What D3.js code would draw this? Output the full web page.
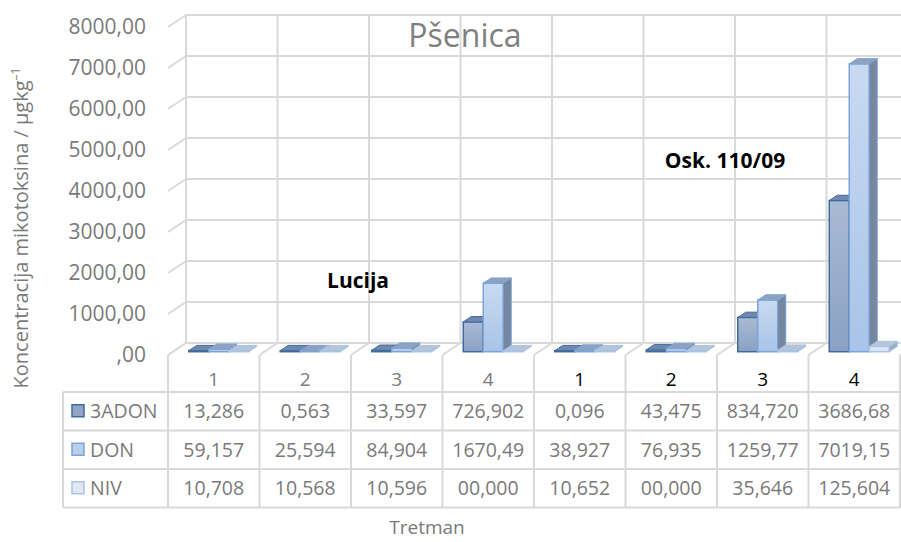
<!DOCTYPE html>
<html>
<head>
<meta charset="utf-8">
<script src="https://cdn.jsdelivr.net/npm/d3@7"></script>
<style>
  body { margin: 0; background: #fff; }
  svg { display: block; font-family: "Open Sans", sans-serif; }
</style>
</head>
<body>
<svg id="chart" width="901" height="542"></svg>
<script>
(function () {
    // categories (treatments), two varieties of 4 each
    var categories = ['1', '2', '3', '4', '1', '2', '3', '4'];
    var series = ['3ADON', 'DON', 'NIV'];
    // table text as printed in the data table; bar heights are parsed from it
    var adon3 = ['13,286', '0,563', '33,597', '726,902', '0,096', '43,475', '834,720', '3686,68'];
    var don = ['59,157', '25,594', '84,904', '1670,49', '38,927', '76,935', '1259,77', '7019,15'];
    var niv = ['10,708', '10,568', '10,596', '00,000', '10,652', '00,000', '35,646', '125,604'];
    var yTicks = [0, 1000, 2000, 3000, 4000, 5000, 6000, 7000, 8000];

    var rows = [adon3, don, niv];
    var num = function (s) { return parseFloat(s.replace(',', '.')); };

    var svg = d3.select('#chart');

    //Front plane geometry, the back wall is shifted by depth
    var left = 168, colW = 91.5;
    var depth = { x: 18, y: -12 };
    var x = d3.scaleBand().domain(d3.range(categories.length))
        .range([left, left + colW * categories.length]);
    var y = d3.scaleLinear().domain([0, 8000]).range([355, 27]);

    var grid = '#d9d9d9';

    // colours per series: front gradient, border, top, side
    var style = [
        { f1: '#a9bad3', f2: '#8aa1c4', stroke: '#3f6b9e', top: '#6f88ab', side: '#687d9c', key: '#8fa6c7' },
        { f1: '#c8daf1', f2: '#a9c4e8', stroke: '#7da4d6', top: '#8ea2bf', side: '#75869f', key: '#b9cfee' },
        { f1: '#e6edf7', f2: '#d3dff0', stroke: '#a9c3e5', top: '#b6c4d7', side: '#9fadc1', key: '#dfe7f3' }
    ];

    var defs = svg.append('defs');
    style.forEach(function (s, i) {
        var g = defs.append('linearGradient').attr('id', 'grad' + i)
            .attr('x1', 0).attr('y1', 0).attr('x2', 0).attr('y2', 1);
        g.append('stop').attr('offset', '0%').attr('stop-color', s.f1);
        g.append('stop').attr('offset', '100%').attr('stop-color', s.f2);
    });

    //Title
    svg.append('text')
        .attr('x', 465).attr('y', 47)
        .attr('text-anchor', 'middle')
        .attr('font-size', 32).attr('fill', '#7f7f7f')
        .text('Pšenica');

    //Back wall grid and left wall diagonals
    var gridG = svg.append('g');
    yTicks.forEach(function (t) {
        var yf = y(t);
        gridG.append('line')
            .attr('x1', left + depth.x).attr('x2', 930)
            .attr('y1', yf + depth.y).attr('y2', yf + depth.y)
            .attr('stroke', grid).attr('stroke-width', 2);
        gridG.append('line')
            .attr('x1', left).attr('y1', yf)
            .attr('x2', left + depth.x).attr('y2', yf + depth.y)
            .attr('stroke', grid).attr('stroke-width', 2);
    });
    d3.range(categories.length + 1).forEach(function (i) {
        var xf = left + i * colW;
        // back wall vertical
        gridG.append('line')
            .attr('x1', xf + depth.x).attr('x2', xf + depth.x)
            .attr('y1', y(8000) + depth.y).attr('y2', y(0) + depth.y)
            .attr('stroke', grid).attr('stroke-width', 2);
        // floor diagonal
        gridG.append('line')
            .attr('x1', xf).attr('y1', y(0))
            .attr('x2', xf + depth.x).attr('y2', y(0) + depth.y)
            .attr('stroke', grid).attr('stroke-width', 2);
        // category row separator
        gridG.append('line')
            .attr('x1', xf).attr('x2', xf)
            .attr('y1', y(0)).attr('y2', 392)
            .attr('stroke', grid).attr('stroke-width', 2);
    });

    //Y tick labels
    svg.append('g').selectAll('text')
        .data(yTicks).enter().append('text')
        .attr('x', 146).attr('y', function (d) { return y(d); })
        .attr('dy', '0.35em')
        .attr('text-anchor', 'end')
        .attr('font-size', 21).attr('fill', '#7a7a7a')
        .text(function (d) { return d === 0 ? ',00' : d + ',00'; });

    //Bars: three series side by side, placed at mid depth
    var barW = 20, bDepth = { x: 8, y: -5.3 }, bOff = { x: 5, y: -3.3 };
    var groupPad = (colW - barW * series.length) / 2;
    var barsG = svg.append('g');
    categories.forEach(function (c, i) {
        rows.forEach(function (row, s) {
            var v = num(row[i]);
            var x0 = x(i) + groupPad + s * barW + bOff.x;
            var x1 = x0 + barW;
            var yb = y(0) + bOff.y;
            var yt = y(v) + bOff.y;
            if (yb - yt < 1) { yt = yb - 1; }
            var st = style[s];
            var g = barsG.append('g');
            g.append('rect')
                .attr('x', x0).attr('y', yt)
                .attr('width', barW).attr('height', yb - yt)
                .attr('fill', 'url(#grad' + s + ')')
                .attr('stroke', st.stroke).attr('stroke-width', 1.5);
            g.append('path')
                .attr('d', 'M' + x1 + ',' + yb + 'L' + x1 + ',' + yt +
                    'L' + (x1 + bDepth.x) + ',' + (yt + bDepth.y) +
                    'L' + (x1 + bDepth.x) + ',' + (yb + bDepth.y) + 'Z')
                .attr('fill', st.side).attr('stroke', st.stroke).attr('stroke-width', 1);
            g.append('path')
                .attr('d', 'M' + x0 + ',' + yt + 'L' + x1 + ',' + yt +
                    'L' + (x1 + bDepth.x) + ',' + (yt + bDepth.y) +
                    'L' + (x0 + bDepth.x) + ',' + (yt + bDepth.y) + 'Z')
                .attr('fill', st.top).attr('stroke', st.stroke).attr('stroke-width', 1);
        });
    });

    //Variety labels
    svg.append('text').attr('x', 358).attr('y', 288)
        .attr('text-anchor', 'middle').attr('font-size', 21).attr('font-weight', 'bold')
        .attr('fill', '#000').text('Lucija');
    svg.append('text').attr('x', 725).attr('y', 168)
        .attr('text-anchor', 'middle').attr('font-size', 21).attr('font-weight', 'bold')
        .attr('fill', '#000').text('Osk. 110/09');

    //Category labels
    svg.append('g').selectAll('text')
        .data(categories).enter().append('text')
        .attr('x', function (d, i) { return x(i) + colW / 2; })
        .attr('y', 386)
        .attr('text-anchor', 'middle')
        .attr('font-size', 19)
        .attr('fill', function (d, i) { return i < 4 ? '#7a7a7a' : '#000'; })
        .text(function (d) { return d; });

    //Data table
    var tTop = 392, rowH = 38.5, tLeft = 63, tRight = left + colW * categories.length;
    var tbl = svg.append('g');
    d3.range(series.length + 1).forEach(function (r) {
        tbl.append('line')
            .attr('x1', tLeft).attr('x2', tRight)
            .attr('y1', tTop + r * rowH).attr('y2', tTop + r * rowH)
            .attr('stroke', grid).attr('stroke-width', 2);
    });
    [tLeft].concat(d3.range(categories.length + 1).map(function (i) { return left + i * colW; }))
        .forEach(function (xv) {
            tbl.append('line')
                .attr('x1', xv).attr('x2', xv)
                .attr('y1', tTop).attr('y2', tTop + series.length * rowH)
                .attr('stroke', grid).attr('stroke-width', 2);
        });
    rows.forEach(function (row, r) {
        var cy = tTop + r * rowH + rowH / 2;
        tbl.append('rect')
            .attr('x', 72).attr('y', cy - 6.5)
            .attr('width', 12).attr('height', 12)
            .attr('fill', style[r].key).attr('stroke', style[r].stroke).attr('stroke-width', 1.5);
        tbl.append('text')
            .attr('x', 90).attr('y', cy).attr('dy', '0.35em')
            .attr('font-size', 19.5).attr('fill', '#7a7a7a')
            .text(series[r]);
        row.forEach(function (cell, i) {
            tbl.append('text')
                .attr('x', x(i) + colW / 2).attr('y', cy).attr('dy', '0.35em')
                .attr('text-anchor', 'middle')
                .attr('font-size', 19.5).attr('fill', '#7a7a7a')
                .text(cell);
        });
    });

    //Axis titles
    svg.append('text').attr('x', 427).attr('y', 534)
        .attr('text-anchor', 'middle').attr('font-size', 19).attr('fill', '#7a7a7a')
        .text('Tretman');

    var yt = svg.append('text')
        .attr('transform', 'translate(28,228) rotate(-90)')
        .attr('text-anchor', 'middle').attr('font-size', 20).attr('fill', '#7a7a7a');
    yt.append('tspan').text('Koncentracija mikotoksina / µgkg');
    yt.append('tspan').attr('baseline-shift', 'super').attr('font-size', 12).text('–1');
}());
</script>
</body>
</html>
